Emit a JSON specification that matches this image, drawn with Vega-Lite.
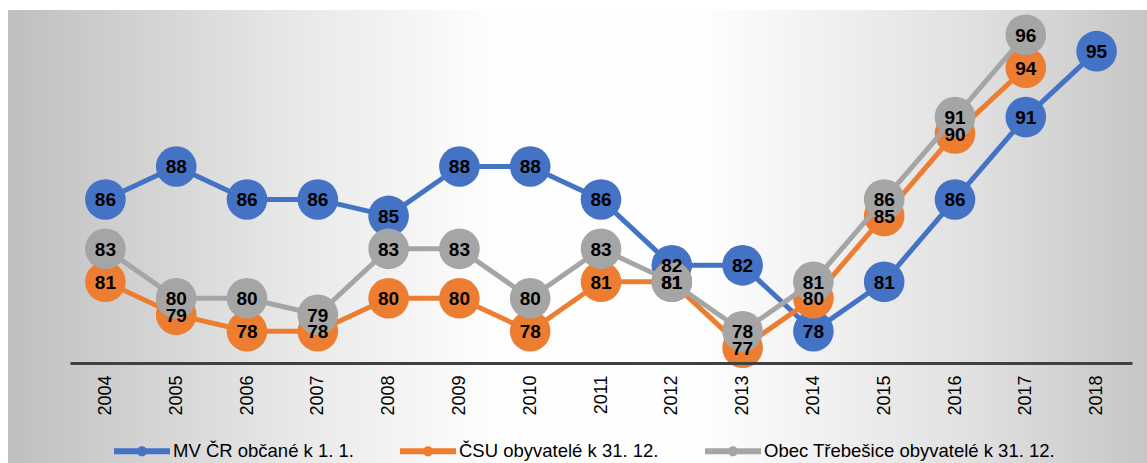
{
  "$schema": "https://vega.github.io/schema/vega-lite/v6.json",
  "width": 1139,
  "height": 453,
  "autosize": {"type": "none"},
  "padding": {"left": 8, "top": 10, "right": 0, "bottom": 0},
  "background": "#ffffff",
  "config": {
    "font": "Liberation Sans",
    "view": {"stroke": null}
  },
  "datasets": {
    "main": [
      {"year": "2004", "series": "MV ČR občané k 1. 1.", "value": 86},
      {"year": "2005", "series": "MV ČR občané k 1. 1.", "value": 88},
      {"year": "2006", "series": "MV ČR občané k 1. 1.", "value": 86},
      {"year": "2007", "series": "MV ČR občané k 1. 1.", "value": 86},
      {"year": "2008", "series": "MV ČR občané k 1. 1.", "value": 85},
      {"year": "2009", "series": "MV ČR občané k 1. 1.", "value": 88},
      {"year": "2010", "series": "MV ČR občané k 1. 1.", "value": 88},
      {"year": "2011", "series": "MV ČR občané k 1. 1.", "value": 86},
      {"year": "2012", "series": "MV ČR občané k 1. 1.", "value": 82},
      {"year": "2013", "series": "MV ČR občané k 1. 1.", "value": 82},
      {"year": "2014", "series": "MV ČR občané k 1. 1.", "value": 78},
      {"year": "2015", "series": "MV ČR občané k 1. 1.", "value": 81},
      {"year": "2016", "series": "MV ČR občané k 1. 1.", "value": 86},
      {"year": "2017", "series": "MV ČR občané k 1. 1.", "value": 91},
      {"year": "2018", "series": "MV ČR občané k 1. 1.", "value": 95},
      {"year": "2004", "series": "ČSU obyvatelé k 31. 12.", "value": 81},
      {"year": "2005", "series": "ČSU obyvatelé k 31. 12.", "value": 79},
      {"year": "2006", "series": "ČSU obyvatelé k 31. 12.", "value": 78},
      {"year": "2007", "series": "ČSU obyvatelé k 31. 12.", "value": 78},
      {"year": "2008", "series": "ČSU obyvatelé k 31. 12.", "value": 80},
      {"year": "2009", "series": "ČSU obyvatelé k 31. 12.", "value": 80},
      {"year": "2010", "series": "ČSU obyvatelé k 31. 12.", "value": 78},
      {"year": "2011", "series": "ČSU obyvatelé k 31. 12.", "value": 81},
      {"year": "2012", "series": "ČSU obyvatelé k 31. 12.", "value": 81},
      {"year": "2013", "series": "ČSU obyvatelé k 31. 12.", "value": 77},
      {"year": "2014", "series": "ČSU obyvatelé k 31. 12.", "value": 80},
      {"year": "2015", "series": "ČSU obyvatelé k 31. 12.", "value": 85},
      {"year": "2016", "series": "ČSU obyvatelé k 31. 12.", "value": 90},
      {"year": "2017", "series": "ČSU obyvatelé k 31. 12.", "value": 94},
      {"year": "2004", "series": "Obec Třebešice obyvatelé k 31. 12.", "value": 83},
      {"year": "2005", "series": "Obec Třebešice obyvatelé k 31. 12.", "value": 80},
      {"year": "2006", "series": "Obec Třebešice obyvatelé k 31. 12.", "value": 80},
      {"year": "2007", "series": "Obec Třebešice obyvatelé k 31. 12.", "value": 79},
      {"year": "2008", "series": "Obec Třebešice obyvatelé k 31. 12.", "value": 83},
      {"year": "2009", "series": "Obec Třebešice obyvatelé k 31. 12.", "value": 83},
      {"year": "2010", "series": "Obec Třebešice obyvatelé k 31. 12.", "value": 80},
      {"year": "2011", "series": "Obec Třebešice obyvatelé k 31. 12.", "value": 83},
      {"year": "2012", "series": "Obec Třebešice obyvatelé k 31. 12.", "value": 81},
      {"year": "2013", "series": "Obec Třebešice obyvatelé k 31. 12.", "value": 78},
      {"year": "2014", "series": "Obec Třebešice obyvatelé k 31. 12.", "value": 81},
      {"year": "2015", "series": "Obec Třebešice obyvatelé k 31. 12.", "value": 86},
      {"year": "2016", "series": "Obec Třebešice obyvatelé k 31. 12.", "value": 91},
      {"year": "2017", "series": "Obec Třebešice obyvatelé k 31. 12.", "value": 96}
    ],
    "bg": [{"name": "background"}]
  },
  "data": {"name": "main"},
  "encoding": {
    "x": {
      "field": "year", "type": "ordinal",
      "scale": {"range": [62, 1124], "paddingInner": 0, "paddingOuter": 0},
      "axis": {
        "title": null, "orient": "bottom", "offset": -100, "zindex": 1,
        "labelAngle": -90, "labelFontSize": 18, "labelColor": "#000000",
        "labelPadding": 12, "ticks": false, "grid": false,
        "domainColor": "#404040", "domainWidth": 3
      }
    },
    "y": {
      "field": "value", "type": "quantitative",
      "scale": {"domain": [70, 97.5], "nice": false, "zero": false},
      "axis": null
    }
  },
  "layer": [
    {
      "data": {"name": "bg"},
      "mark": {
        "type": "rect",
        "fill": {
          "gradient": "linear", "x1": 0, "y1": 0, "x2": 1, "y2": 0,
          "stops": [
            {"offset": 0, "color": "#bfbfbf"},
            {"offset": 0.25, "color": "#e8e8e8"},
            {"offset": 0.42, "color": "#fdfdfd"},
            {"offset": 0.6, "color": "#ffffff"},
            {"offset": 0.85, "color": "#e0e0e0"},
            {"offset": 1, "color": "#c6c6c6"}
          ]
        }
      },
      "encoding": {"x": null, "y": null}
    },
    {
      "transform": [{"filter": "datum.series === 'MV ČR občané k 1. 1.'"}],
      "mark": {"type": "line", "strokeWidth": 5},
      "encoding": {"color": {"field": "series", "type": "nominal"}}
    },
    {
      "transform": [{"filter": "datum.series === 'MV ČR občané k 1. 1.'"}],
      "mark": {"type": "point", "filled": true, "opacity": 1, "size": 1650, "shape": "circle"},
      "encoding": {"color": {"field": "series", "type": "nominal"}}
    },
    {
      "transform": [{"filter": "datum.series === 'ČSU obyvatelé k 31. 12.'"}],
      "mark": {"type": "line", "strokeWidth": 5},
      "encoding": {"color": {"field": "series", "type": "nominal"}}
    },
    {
      "transform": [{"filter": "datum.series === 'ČSU obyvatelé k 31. 12.'"}],
      "mark": {"type": "point", "filled": true, "opacity": 1, "size": 1650, "shape": "circle"},
      "encoding": {"color": {"field": "series", "type": "nominal"}}
    },
    {
      "transform": [{"filter": "datum.series === 'Obec Třebešice obyvatelé k 31. 12.'"}],
      "mark": {"type": "line", "strokeWidth": 5},
      "encoding": {"color": {"field": "series", "type": "nominal"}}
    },
    {
      "transform": [{"filter": "datum.series === 'Obec Třebešice obyvatelé k 31. 12.'"}],
      "mark": {"type": "point", "filled": true, "opacity": 1, "size": 1650, "shape": "circle"},
      "encoding": {
        "color": {
          "field": "series", "type": "nominal",
          "scale": {
            "domain": ["MV ČR občané k 1. 1.", "ČSU obyvatelé k 31. 12.", "Obec Třebešice obyvatelé k 31. 12."],
            "range": ["#4472C4", "#ED7D31", "#A5A5A5"]
          },
          "legend": {
            "title": null, "orient": "none", "direction": "horizontal",
            "legendX": 106, "legendY": 413,
            "labelFontSize": 18.5, "labelColor": "#000000", "labelOffset": 3,
            "labelLimit": 500, "columnPadding": 46,
            "symbolType": "M-1,-0.107L1,-0.107L1,0.107L-1,0.107Z M-0.18,0 A0.18,0.18 0 1,1 0.18,0 A0.18,0.18 0 1,1 -0.18,0Z",
            "symbolSize": 3136, "symbolStrokeWidth": 0, "symbolOpacity": 1
          }
        }
      }
    },
    {
      "mark": {"type": "text", "fontSize": 19, "fontWeight": "bold", "color": "#000000", "align": "center", "baseline": "middle", "dy": 1},
      "encoding": {"text": {"field": "value", "type": "quantitative"}}
    }
  ]
}
